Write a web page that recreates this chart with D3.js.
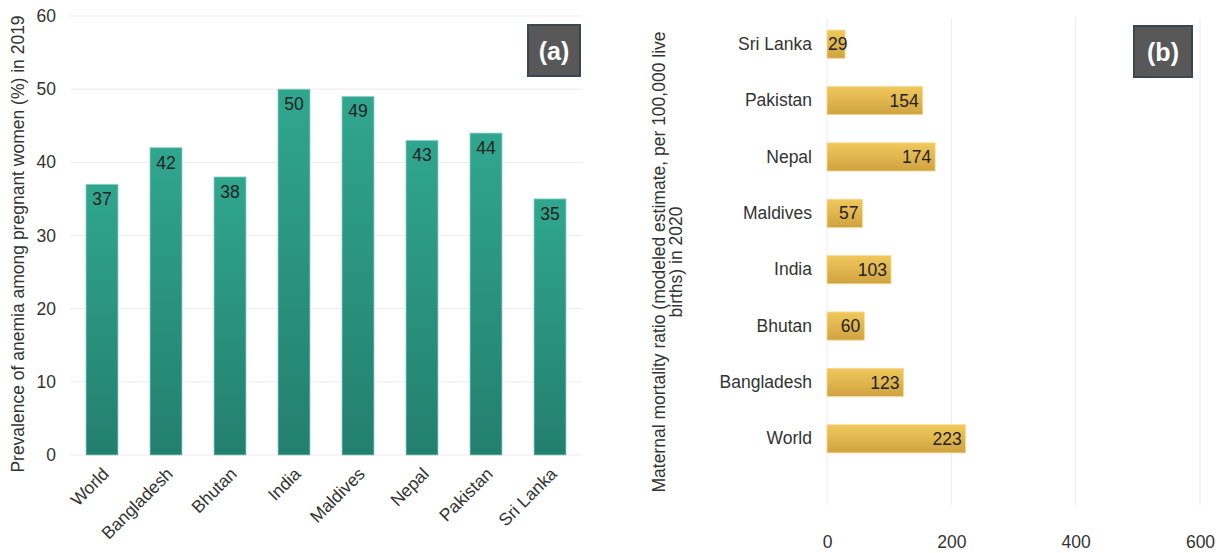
<!DOCTYPE html>
<html>
<head>
<meta charset="utf-8">
<script src="https://cdn.jsdelivr.net/npm/d3@7"></script>
<style>
  html, body { margin: 0; padding: 0; background: #fff; }
  svg { display: block; font-family: "Liberation Sans", Arial, sans-serif; }
</style>
</head>
<body>
<svg id="chart" width="1223" height="553"></svg>
<script>
// Panel (a): anaemia prevalence among pregnant women, 2019 (%)
const anemiaCountries = ["World", "Bangladesh", "Bhutan", "India", "Maldives", "Nepal", "Pakistan", "Sri Lanka"];
const anemiaValues = [37, 42, 38, 50, 49, 43, 44, 35];
const anemiaTicks = [0, 10, 20, 30, 40, 50, 60];

// Panel (b): maternal mortality ratio, 2020 (per 100,000 live births)
const mmrCountries = ["World", "Bangladesh", "Bhutan", "India", "Maldives", "Nepal", "Pakistan", "Sri Lanka"];
const mmrValues = [223, 123, 60, 103, 57, 174, 154, 29];
const mmrTicks = [0, 200, 400, 600];

const FONT = "Liberation Sans, Arial, sans-serif";
const FS = 17.5;

const svg = d3.select("#chart");
const defs = svg.append("defs");

const tealGrad = defs.append("linearGradient").attr("id", "tealGrad")
  .attr("x1", 0).attr("y1", 0).attr("x2", 0).attr("y2", 1);
tealGrad.append("stop").attr("offset", "0%").attr("stop-color", "#30a68f");
tealGrad.append("stop").attr("offset", "100%").attr("stop-color", "#237f6e");

const goldGrad = defs.append("linearGradient").attr("id", "goldGrad")
  .attr("x1", 0).attr("y1", 0).attr("x2", 0).attr("y2", 1);
goldGrad.append("stop").attr("offset", "0%").attr("stop-color", "#f1c85c");
goldGrad.append("stop").attr("offset", "100%").attr("stop-color", "#cfa340");

const textColor = "#333";
const gridColor = "#ececec";

// ---------- Panel (a) ----------
const xA = d3.scaleBand().domain(anemiaCountries).range([70, 582]).paddingInner(0.5).paddingOuter(0.25);
const yA = d3.scaleLinear().domain([0, 60]).range([455, 16]);

const gA = svg.append("g");

gA.append("g").selectAll("line").data(anemiaTicks).join("line")
  .attr("x1", 70).attr("x2", 582)
  .attr("y1", d => yA(d)).attr("y2", d => yA(d))
  .attr("stroke", gridColor).attr("stroke-width", 1);

const yAxisA = d3.axisLeft(yA).tickValues(anemiaTicks).tickSize(0).tickPadding(14);
gA.append("g").attr("transform", "translate(70,0)").call(yAxisA)
  .call(g => g.select(".domain").remove())
  .call(g => g.selectAll("text").attr("fill", textColor).attr("font-size", FS)
    .attr("font-family", FONT));

gA.append("g").selectAll("rect").data(anemiaCountries).join("rect")
  .attr("x", d => xA(d))
  .attr("y", (d, i) => yA(anemiaValues[i]))
  .attr("width", xA.bandwidth())
  .attr("height", (d, i) => yA(0) - yA(anemiaValues[i]))
  .attr("fill", "url(#tealGrad)")
  .attr("stroke", "#8fd3c2").attr("stroke-width", 0.8);

gA.append("g").selectAll("text").data(anemiaCountries).join("text")
  .attr("x", d => xA(d) + xA.bandwidth() / 2)
  .attr("y", (d, i) => yA(anemiaValues[i]) + 21)
  .attr("text-anchor", "middle")
  .attr("font-size", FS).attr("fill", "#222")
  .text((d, i) => anemiaValues[i]);

const xAxisA = d3.axisBottom(xA).tickSize(0).tickPadding(0);
gA.append("g").attr("transform", "translate(0,455)").call(xAxisA)
  .call(g => g.select(".domain").remove())
  .call(g => g.selectAll("text")
    .attr("fill", textColor).attr("font-size", FS)
    .attr("font-family", FONT)
    .attr("text-anchor", "end")
    .attr("dy", 0)
    .attr("transform", "translate(8,20) rotate(-45)"));

svg.append("text")
  .attr("transform", "translate(24,244) rotate(-90)")
  .attr("text-anchor", "middle")
  .attr("font-size", FS).attr("fill", textColor)
  .text("Prevalence of anemia among pregnant women (%) in 2019");

// ---------- Panel (b) ----------
const xB = d3.scaleLinear().domain([0, 600]).range([827, 1200]);
const yB = d3.scaleBand().domain(mmrCountries.slice().reverse()).range([16, 467]).paddingInner(0.5).paddingOuter(0.25);

const gB = svg.append("g");

gB.append("g").selectAll("line").data(mmrTicks).join("line")
  .attr("x1", d => xB(d)).attr("x2", d => xB(d))
  .attr("y1", 18).attr("y2", 505)
  .attr("stroke", gridColor).attr("stroke-width", 1);

const xAxisB = d3.axisBottom(xB).tickValues(mmrTicks).tickSize(0).tickPadding(0);
gB.append("g").attr("transform", "translate(0,536)").call(xAxisB)
  .call(g => g.select(".domain").remove())
  .call(g => g.selectAll("text").attr("fill", textColor).attr("font-size", FS)
    .attr("font-family", FONT));

const yAxisB = d3.axisLeft(yB).tickSize(0).tickPadding(15);
gB.append("g").attr("transform", "translate(827,0)").call(yAxisB)
  .call(g => g.select(".domain").remove())
  .call(g => g.selectAll("text").attr("fill", textColor).attr("font-size", FS)
    .attr("font-family", FONT));

gB.append("g").selectAll("rect").data(mmrCountries).join("rect")
  .attr("x", xB(0))
  .attr("y", d => yB(d))
  .attr("width", (d, i) => xB(mmrValues[i]) - xB(0))
  .attr("height", yB.bandwidth())
  .attr("fill", "url(#goldGrad)")
  .attr("stroke", "#f6dc93").attr("stroke-width", 0.8);

// Value labels: right-aligned inside the bar, or from the bar start if too short
gB.append("g").selectAll("text").data(mmrCountries).join("text")
  .attr("y", d => yB(d) + yB.bandwidth() / 2)
  .attr("dy", "0.35em")
  .attr("font-size", FS).attr("fill", "#222")
  .text((d, i) => mmrValues[i])
  .each(function(d, i) {
    const w = this.getComputedTextLength();
    const endX = xB(mmrValues[i]) - 4;
    const startX = Math.max(endX - w, xB(0) + 1);
    d3.select(this).attr("x", startX);
  });

const titleB = svg.append("text")
  .attr("transform", "translate(665,262) rotate(-90)")
  .attr("text-anchor", "middle")
  .attr("font-size", FS).attr("fill", textColor);
titleB.append("tspan").attr("x", 0).attr("dy", 0)
  .text("Maternal mortality ratio (modeled estimate, per 100,000 live");
titleB.append("tspan").attr("x", 0).attr("dy", 17)
  .text("births) in 2020");

// ---------- Panel tags ----------
function tag(x, y, w, h, label) {
  svg.append("rect")
    .attr("x", x).attr("y", y).attr("width", w).attr("height", h)
    .attr("fill", "#585858").attr("stroke", "#3a4652").attr("stroke-width", 2);
  svg.append("text")
    .attr("x", x + w / 2).attr("y", y + h / 2)
    .attr("dy", "0.36em").attr("text-anchor", "middle")
    .attr("font-size", 25).attr("font-weight", "bold").attr("fill", "#fff")
    .text(label);
}
tag(528, 25, 52, 51, "(a)");
tag(1134, 26, 58, 51, "(b)");
</script>
</body>
</html>
